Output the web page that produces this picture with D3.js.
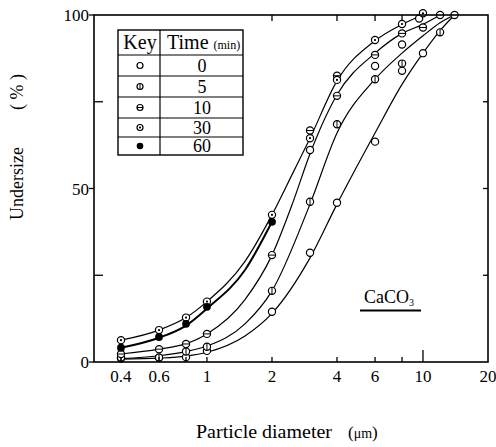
<!DOCTYPE html>
<html><head><meta charset="utf-8">
<script src="https://cdn.jsdelivr.net/npm/d3@7"></script>
<style>
body{margin:0;background:#fff}
svg{display:block}
svg text{font-family:"Liberation Serif","Times New Roman",Tinos,"DejaVu Serif",serif;fill:#000}
</style>
</head><body>
<svg id="chart" width="496" height="447"></svg>
<script>
// ---- data ----
const times = ["0", "5", "10", "30", "60"];
const markerKinds = ["open", "vbar", "hbar", "dot", "filled"];
const xTickValues = [0.4, 0.6, 1, 2, 4, 6, 10, 20];
const xTickLabels = ["0.4", "0.6", "1", "2", "4", "6", "10", "20"];
const xMinorBottom = [0.4, 0.6, 0.8, 1, 2, 4, 6, 8];
const xMajorBottom = [10];
const xTopTicks = [2, 4, 6, 8];
const yTickValues = [0, 50, 100];
const yInnerTicks = [25, 75];
const yRightTicks = [25, 50, 75];

// measured points [diameter µm, undersize %]
const pts0 = [[0.4,1.0],[0.6,1.2],[0.8,1.4],[1,3.2],[2,14.5],[3,31.5],[4,45.9],[6,63.5],[8,83.9],[10,89],[14,100],
              [3,61.1],[6,85.3],[8,91.5],[9.6,99],[12,100]];
const pts5 = [[0.4,1.3],[0.6,1.3],[0.8,3.0],[1,4.4],[2,20.5],[3,46.2],[4,68.5],[6,81.5],[8,86],[12,95]];
const pts10 = [[0.4,2.3],[0.6,3.7],[0.8,5.2],[1,8.1],[2,30.8],[3,66.7],[4,76.7],[4,82.5],[6,88.5],[8,94.7],[10,96.4]];
const pts30 = [[0.4,6.3],[0.6,9.2],[0.8,12.8],[1,17.4],[2,42.4],[3,64.5],[4,81.3],[6,92.8],[8,97.4],[10,100.5]];
const pts60 = [[0.4,4.1],[0.6,7.2],[0.8,11],[1,15.9],[2,40.4]];

// fitted curves drawn in the reference
const fit0 = [[0.4,0.8],[0.6,1.1],[0.8,1.7],[1,2.8],[1.5,7.5],[2,14],[3,30],[4,45.5],[6,66],[8,80],[10,89],[12,95.5],[14,100]];
const fit5 = [[0.4,1.0],[0.6,1.8],[0.8,3.0],[1,4.6],[1.5,11],[2,20.5],[3,45.5],[4,66],[6,81.5],[8,89],[10,94],[12,97.8],[14,100]];
const fit10 = [[0.4,2.3],[0.6,3.7],[0.8,5.3],[1,8.1],[1.5,18],[2,30.8],[2.5,46],[3,60],[4,77],[6,89],[8,94.7],[10,97.3],[12,100]];
const fit30 = [[0.4,6.3],[0.6,9.2],[0.8,12.8],[1,17.4],[1.5,29],[2,42.4],[2.5,54.5],[3,64.5],[4,81],[6,92.6],[8,97.3],[10,100]];
const fit60 = [[0.4,4.1],[0.6,7.0],[0.8,10.5],[1,15.4],[1.5,26.5],[2,40.4]];

const seriesPts = [pts0, pts5, pts10, pts30, pts60];
const seriesFit = [fit0, fit5, fit10, fit30, fit60];

// ---- drawing ----
const svg = d3.select("#chart");
const L = 94, R = 488, T = 15, B = 362;
const x = d3.scaleLog().domain([0.3, 20]).range([L, R]);
const y = d3.scaleLinear().domain([0, 100]).range([B, T]);

const line = d3.line().x(d => x(d[0])).y(d => y(d[1])).curve(d3.curveMonotoneX);

seriesFit.forEach((f, i) => {
  svg.append("path").attr("d", line(f)).attr("fill", "none")
    .attr("stroke", "#000").attr("stroke-width", i === 4 ? 2 : 1.2);
});

function marker(g, kind, cx, cy, r) {
  if (kind === "filled") {
    g.append("circle").attr("cx", cx).attr("cy", cy).attr("r", r + 0.3).attr("fill", "#000");
    return;
  }
  g.append("circle").attr("cx", cx).attr("cy", cy).attr("r", r)
    .attr("fill", "#fff").attr("stroke", "#000").attr("stroke-width", 1.2);
  if (kind === "vbar") g.append("line").attr("x1", cx).attr("x2", cx).attr("y1", cy - r).attr("y2", cy + r).attr("stroke", "#000").attr("stroke-width", 1);
  if (kind === "hbar") g.append("line").attr("x1", cx - r).attr("x2", cx + r).attr("y1", cy).attr("y2", cy).attr("stroke", "#000").attr("stroke-width", 1);
  if (kind === "dot") g.append("circle").attr("cx", cx).attr("cy", cy).attr("r", 1.1).attr("fill", "#000");
}

const gm = svg.append("g");
seriesPts.forEach((pts, i) => {
  pts.forEach(p => marker(gm, markerKinds[i], x(p[0]), y(p[1]), 3.6));
});

svg.append("rect").attr("x", L).attr("y", T).attr("width", R - L).attr("height", B - T)
  .attr("fill", "none").attr("stroke", "#000").attr("stroke-width", 1.6);

const axG = svg.append("g").attr("stroke", "#000").attr("stroke-width", 1.3);
xMinorBottom.forEach(v => axG.append("line").attr("x1", x(v)).attr("x2", x(v)).attr("y1", B).attr("y2", B - 5));
xMajorBottom.forEach(v => axG.append("line").attr("x1", x(v)).attr("x2", x(v)).attr("y1", B).attr("y2", B - 12));
xTopTicks.forEach(v => axG.append("line").attr("x1", x(v)).attr("x2", x(v)).attr("y1", T).attr("y2", T + 6));
yTickValues.forEach(v => axG.append("line").attr("x1", L - 5).attr("x2", L).attr("y1", y(v)).attr("y2", y(v)));
yInnerTicks.forEach(v => axG.append("line").attr("x1", L).attr("x2", L + 9).attr("y1", y(v)).attr("y2", y(v)));
yRightTicks.forEach(v => axG.append("line").attr("x1", R).attr("x2", R - 5).attr("y1", y(v)).attr("y2", y(v)));

const tl = svg.append("g").attr("font-size", 17);
xTickValues.forEach((v, i) => {
  tl.append("text").attr("x", x(v)).attr("y", 382).attr("text-anchor", "middle").text(xTickLabels[i]);
});
yTickValues.forEach(v => {
  tl.append("text").attr("x", 89).attr("y", y(v) + 6).attr("text-anchor", "end").text(v);
});

// axis titles
svg.append("text").attr("x", 196).attr("y", 438).attr("font-size", 19)
  .attr("textLength", 136).attr("lengthAdjust", "spacingAndGlyphs").text("Particle diameter");
const mu = svg.append("text").attr("x", 348).attr("y", 438).attr("font-size", 17);
mu.append("tspan").text("(");
mu.append("tspan").attr("font-size", 14).text("μm");
mu.append("tspan").text(")");

svg.append("text").attr("transform", "translate(23,220) rotate(-90)").attr("font-size", 18)
  .attr("textLength", 73).attr("lengthAdjust", "spacingAndGlyphs").text("Undersize");
svg.append("text").attr("transform", "translate(23,110) rotate(-90)").attr("font-size", 18)
  .attr("textLength", 36).attr("lengthAdjust", "spacing").text("(%)");

// CaCO3 label
const ct = svg.append("text").attr("x", 364).attr("y", 303).attr("font-size", 18);
ct.append("tspan").text("CaCO");
ct.append("tspan").attr("font-size", 10).attr("dy", 3).text("3");
svg.append("line").attr("x1", 360).attr("x2", 421).attr("y1", 310.5).attr("y2", 310.5)
  .attr("stroke", "#000").attr("stroke-width", 2);

// legend table
const lg = svg.append("g");
const lx0 = 118, lx1 = 243, ldiv = 160;
const rowLines = [30, 55, 76, 97, 118, 137, 155];
lg.append("rect").attr("x", lx0).attr("y", 30).attr("width", lx1 - lx0).attr("height", 125)
  .attr("fill", "#fff").attr("stroke", "#000").attr("stroke-width", 1.4);
lg.append("line").attr("x1", ldiv).attr("x2", ldiv).attr("y1", 30).attr("y2", 155).attr("stroke", "#000").attr("stroke-width", 1.2);
rowLines.slice(1, -1).forEach(yy => lg.append("line").attr("x1", lx0).attr("x2", lx1).attr("y1", yy).attr("y2", yy).attr("stroke", "#000").attr("stroke-width", 1.1));
lg.append("text").attr("x", 140).attr("y", 49).attr("text-anchor", "middle").attr("font-size", 20).text("Key");
const th = lg.append("text").attr("x", 167).attr("y", 49).attr("font-size", 20);
th.append("tspan").text("Time ");
th.append("tspan").attr("font-size", 12).text("(min)");
times.forEach((t, i) => {
  const cy = (rowLines[i + 1] + rowLines[i + 2]) / 2;
  marker(lg, markerKinds[i], 140, cy, 3);
  lg.append("text").attr("x", 202).attr("y", cy + 6).attr("text-anchor", "middle").attr("font-size", 18).text(t);
});
</script>
</body></html>
